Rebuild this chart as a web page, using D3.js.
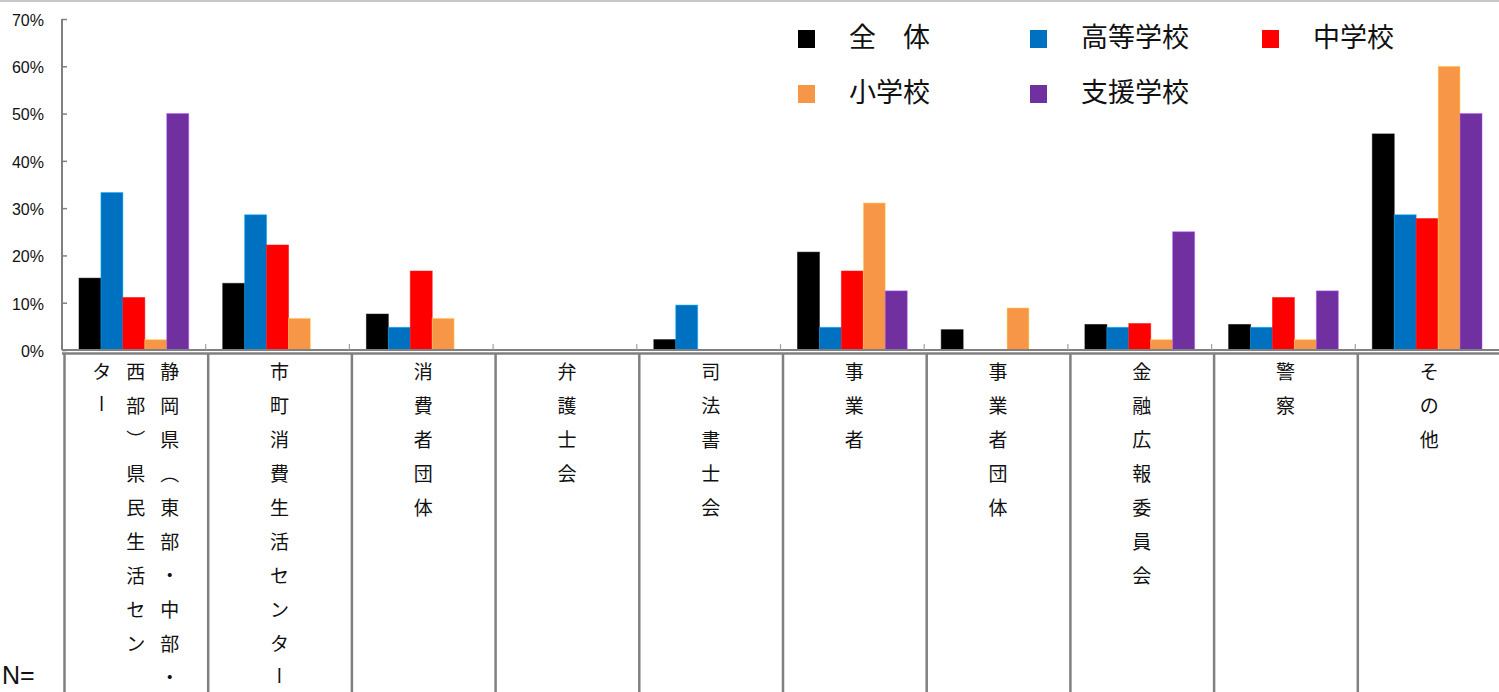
<!DOCTYPE html>
<html><head><meta charset="utf-8">
<script src="https://cdn.jsdelivr.net/npm/d3@7"></script>
<style>
html,body{margin:0;padding:0;background:#fff;}
svg{display:block;}
</style></head>
<body>
<svg id="chart" width="1499" height="692"></svg>
<script>
const categories = [
  "静岡県（東部・中部・西部）県民生活センター",
  "市町消費生活センター",
  "消費者団体",
  "弁護士会",
  "司法書士会",
  "事業者",
  "事業者団体",
  "金融広報委員会",
  "警察",
  "その他"
];
const seriesNames = ["全　体", "高等学校", "中学校", "小学校", "支援学校"];
const seriesColors = ["#000000", "#0070C0", "#FF0000", "#F79646", "#7030A0"];
const zentai   = [15.2, 14.1, 7.6, 0, 2.2, 20.7, 4.3, 5.4, 5.4, 45.7];
const koukou   = [33.3, 28.6, 4.8, 0, 9.5, 4.8, 0, 4.8, 4.8, 28.6];
const chuugaku = [11.1, 22.2, 16.7, 0, 0, 16.7, 0, 5.6, 11.1, 27.8];
const shougaku = [2.2, 6.7, 6.7, 0, 0, 31.1, 8.9, 2.2, 2.2, 60.0];
const shien    = [50, 0, 0, 0, 0, 12.5, 0, 25, 12.5, 50];
const yTicks = [0, 10, 20, 30, 40, 50, 60, 70];

const seriesValues = [zentai, koukou, chuugaku, shougaku, shien];

const svg = d3.select("#chart");
const pLeft = 62, pRight = 1499, pTop = 19, pBase = 350;
const gray = "#808080";

// top border
svg.append("line").attr("x1",0).attr("x2",1499).attr("y1",1).attr("y2",1)
  .attr("stroke","#c8c8c8").attr("stroke-width",2);

const x = d3.scaleBand().domain(categories).range([pLeft, pRight]);
const bw = x.bandwidth();
const xs = d3.scaleBand().domain(seriesNames).range([17, bw - 17]);
const y = d3.scaleLinear().domain([0, 70]).range([pBase, pTop]);

// bars
const groups = svg.append("g").selectAll("g").data(categories).join("g")
  .attr("transform", d => `translate(${x(d)},0)`);
groups.selectAll("rect")
  .data((c, i) => seriesNames.map((s, k) => ({s, k, v: seriesValues[k][i]})).filter(d => d.v > 0))
  .join("rect")
  .attr("x", d => xs(d.s))
  .attr("width", xs.bandwidth())
  .attr("y", d => y(d.v))
  .attr("height", d => pBase - y(d.v))
  .attr("fill", d => seriesColors[d.k])
  .attr("stroke", d => d3.color(seriesColors[d.k]).brighter(1.2))
  .attr("stroke-opacity", 0.5)
  .attr("stroke-width", 1);

// y axis
const yAxis = d3.axisLeft(y).tickValues(yTicks).tickSize(-5).tickPadding(18)
  .tickFormat(d => d + "%");
const gy = svg.append("g").attr("transform", `translate(${pLeft},0)`).call(yAxis);
gy.select(".domain").attr("stroke", gray).attr("stroke-width", 2)
  .attr("d", `M0,${pTop}V${pBase}`);
gy.selectAll(".tick line").attr("stroke", gray).attr("stroke-width", 1.5);
gy.selectAll(".tick text").attr("font-family", "'Liberation Sans', Arial, sans-serif")
  .attr("font-size", 16).attr("fill", "#111").attr("dy", "0.4em");

// x axis line and boundary ticks
const bounds = categories.map(c => x(c));
svg.append("line").attr("x1", pLeft).attr("x2", pRight).attr("y1", pBase).attr("y2", pBase)
  .attr("stroke", gray).attr("stroke-width", 2);
svg.append("g").selectAll("line").data(bounds.slice(1)).join("line")
  .attr("x1", d => d).attr("x2", d => d).attr("y1", pBase - 6).attr("y2", pBase)
  .attr("stroke", "#a0a0a0").attr("stroke-width", 1.2);

// table
svg.append("line").attr("x1", pLeft).attr("x2", pRight).attr("y1", 353.5).attr("y2", 353.5)
  .attr("stroke", gray).attr("stroke-width", 2.5);
svg.append("g").selectAll("line").data(bounds).join("line")
  .attr("x1", d => d + 2.5).attr("x2", d => d + 2.5).attr("y1", 353).attr("y2", 692)
  .attr("stroke", gray).attr("stroke-width", 2.5);

// vertical category labels
const maxRows = 10;
const noStart = "ー・）、。";
function wrapVertical(s) {
  const chars = Array.from(s);
  const cols = [];
  let i = 0;
  while (i < chars.length) {
    let end = Math.min(i + maxRows, chars.length);
    while (end < chars.length && noStart.includes(chars[end]) && end - i > 1) end--;
    cols.push(chars.slice(i, end));
    i = end;
  }
  return cols;
}
const vmap = {"（": "︵", "）": "︶"};
const colGap = 34, rowGap = 34, row0 = 370;
categories.forEach(c => {
  const cols = wrapVertical(c);
  const cx = x(c) + bw / 2 + 2;
  const n = cols.length;
  cols.forEach((col, ci) => {
    const colX = cx + ((n - 1) / 2 - ci) * colGap;
    col.forEach((ch, ri) => {
      const t = svg.append("text")
        .attr("x", colX).attr("y", row0 + ri * rowGap)
        .attr("text-anchor", "middle").attr("dominant-baseline", "central")
        .attr("font-family", "'Noto Sans CJK JP', sans-serif")
        .attr("font-size", 19).attr("fill", "#111");
      if (ch === "ー") {
        t.style("writing-mode", "vertical-rl").text(ch);
      } else {
        t.text(vmap[ch] || ch);
      }
    });
  });
});

// N=
svg.append("text").attr("x", 2).attr("y", 684).text("N=")
  .attr("font-family", "'Liberation Sans', Arial, sans-serif")
  .attr("font-size", 25).attr("fill", "#111");

// legend
const legX = [798, 1030, 1262], legY = [30, 85];
const leg = svg.append("g").selectAll("g").data(seriesNames).join("g")
  .attr("transform", (d, i) => `translate(${legX[i % 3]},${legY[Math.floor(i / 3)]})`);
leg.append("rect").attr("width", 17).attr("height", 18)
  .attr("fill", (d, i) => seriesColors[i]);
leg.append("text").attr("x", 51).attr("y", 5).attr("dominant-baseline", "central")
  .attr("font-family", "'Noto Sans CJK JP', sans-serif").attr("font-size", 27)
  .attr("fill", "#111").text(d => d);
</script>
</body></html>
